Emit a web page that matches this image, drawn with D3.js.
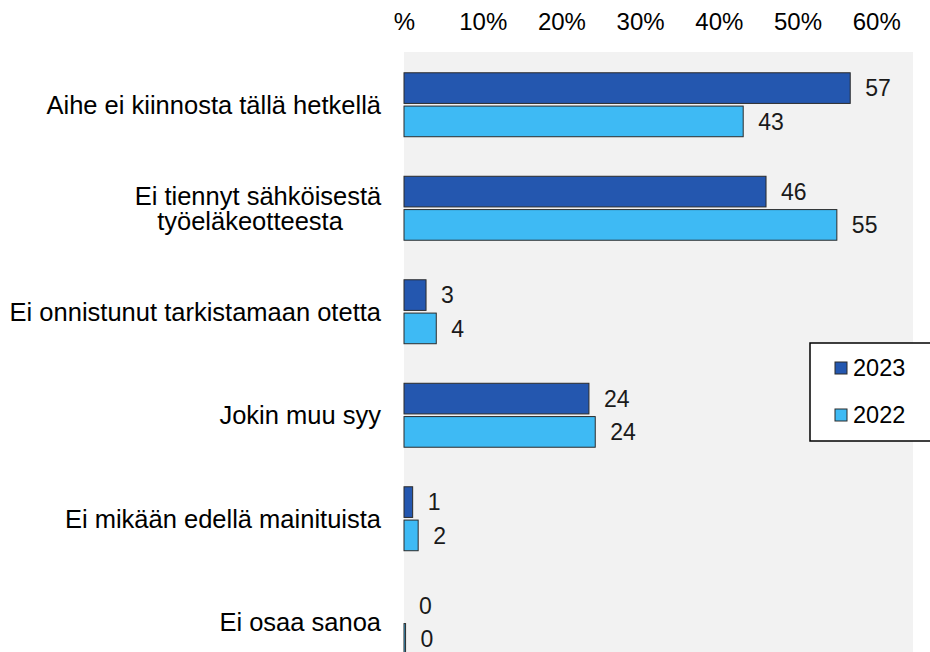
<!DOCTYPE html>
<html lang="fi">
  <head>
    <meta charset="UTF-8" />
    <title>Syyt, miksi ei tarkistanut työeläkeotetta</title>
    <script src="https://d3js.org/d3.v7.min.js"></script>
    <style>
      body {
        margin: 0;
        background-color: white;
      }
      svg {
        display: block;
        font-family: "Liberation Sans", Arial, sans-serif;
      }
      .bar {
        stroke: #2b2b2b;
        stroke-width: 1px;
      }
      .cat-label {
        font-size: 25.5px;
        fill: #000;
      }
      .tick-label {
        font-size: 24px;
        fill: #000;
      }
      .value-label {
        font-size: 23px;
        fill: #1a1a1a;
      }
      .legend-text {
        font-size: 23.5px;
        fill: #000;
      }
    </style>
  </head>
  <body>
    <svg id="chart" width="930" height="652"></svg>
    <script>
      // categories (two-line label split with "|")
      const categories = [
        "Aihe ei kiinnosta tällä hetkellä",
        "Ei tiennyt sähköisestä|työeläkeotteesta",
        "Ei onnistunut tarkistamaan otetta",
        "Jokin muu syy",
        "Ei mikään edellä mainituista",
        "Ei osaa sanoa",
      ];
      const seriesNames = ["2023", "2022"];
      const values2023 = [56.7, 46, 2.8, 23.5, 1.1, 0];
      const values2022 = [43.1, 55, 4.1, 24.3, 1.8, 0.2];
      const tickValues = [0, 10, 20, 30, 40, 50, 60];
      const colors = ["#2457af", "#3ebaf4"];

      const svg = d3.select("#chart");

      // plot area
      const plotLeft = 404;
      const plotRight = 913;
      const plotTop = 52;
      const step = 103.5;

      const x = d3.scaleLinear().domain([0, 60]).range([plotLeft, plotLeft + 60 * 7.87]);

      const y = d3
        .scaleBand()
        .domain(categories)
        .range([plotTop + 1, plotTop + 1 + step * categories.length])
        .paddingInner(0.382)
        .paddingOuter(0.191);

      const ySeries = d3.scaleBand().domain(seriesNames).range([0, y.bandwidth()]).paddingInner(0.08);

      const color = d3.scaleOrdinal().domain(seriesNames).range(colors);

      // gray background
      svg
        .append("rect")
        .attr("x", plotLeft)
        .attr("y", plotTop)
        .attr("width", plotRight - plotLeft)
        .attr("height", 652 - plotTop)
        .attr("fill", "#f2f2f2");

      // top axis, labels only
      const xAxis = d3
        .axisTop(x)
        .tickValues(tickValues)
        .tickSize(0)
        .tickPadding(0)
        .tickFormat((d) => (d === 0 ? "%" : d + "%"));

      const axisG = svg.append("g").attr("transform", "translate(0,30)").call(xAxis);
      axisG.select(".domain").remove();
      axisG
        .selectAll("text")
        .attr("class", "tick-label")
        .attr("dy", 0)
        .attr("font-family", null)
        .attr("font-size", null);

      // rows
      const rows = categories.map((c, i) => ({
        cat: c,
        values: [
          { key: "2023", value: values2023[i] },
          { key: "2022", value: values2022[i] },
        ],
      }));

      const group = svg
        .selectAll(".group")
        .data(rows)
        .enter()
        .append("g")
        .attr("class", "group")
        .attr("transform", (d) => `translate(0,${y(d.cat)})`);

      group
        .selectAll(".bar")
        .data((d) => d.values)
        .enter()
        .append("rect")
        .attr("class", "bar")
        .attr("x", x(0))
        .attr("y", (d) => ySeries(d.key))
        .attr("width", (d) => x(d.value) - x(0))
        .attr("height", ySeries.bandwidth())
        .attr("fill", (d) => color(d.key))
        .attr("stroke-opacity", (d) => (d.value === 0 ? 0 : 1));

      group
        .selectAll(".value-label")
        .data((d) => d.values)
        .enter()
        .append("text")
        .attr("class", "value-label")
        .attr("x", (d) => x(d.value) + 15)
        .attr("y", (d) => ySeries(d.key) + ySeries.bandwidth() / 2)
        .attr("dy", "0.36em")
        .text((d) => Math.round(d.value));

      // category labels
      group.each(function (d) {
        const lines = d.cat.split("|");
        const mid = y.bandwidth() / 2;
        const g = d3.select(this);
        if (lines.length === 1) {
          g.append("text")
            .attr("class", "cat-label")
            .attr("x", 381)
            .attr("y", mid)
            .attr("dy", "0.36em")
            .attr("text-anchor", "end")
            .text(lines[0]);
        } else {
          // wrapped label, lines centred on each other like Excel does
          const lh = 25;
          const t = g
            .append("text")
            .attr("class", "cat-label")
            .attr("text-anchor", "middle");
          lines.forEach((line, j) => {
            t.append("tspan")
              .attr("x", j === 0 ? 258 : 250)
              .attr("y", mid + (j - (lines.length - 1) / 2) * lh)
              .attr("dy", "0.36em")
              .text(line);
          });
        }
      });

      // legend
      const legend = svg.append("g").attr("transform", "translate(810,343)");
      legend
        .append("rect")
        .attr("width", 130)
        .attr("height", 98)
        .attr("fill", "white")
        .attr("stroke", "#000")
        .attr("stroke-width", 1.5);

      const item = legend
        .selectAll(".item")
        .data(seriesNames)
        .enter()
        .append("g")
        .attr("class", "item")
        .attr("transform", (d, i) => `translate(25,${19 + i * 47})`);

      item
        .append("rect")
        .attr("width", 12)
        .attr("height", 12)
        .attr("fill", (d) => color(d))
        .attr("stroke", "#2b2b2b")
        .attr("stroke-width", 1);

      item
        .append("text")
        .attr("class", "legend-text")
        .attr("x", 18)
        .attr("y", 6)
        .attr("dy", "0.36em")
        .text((d) => d);
    </script>
  </body>
</html>
